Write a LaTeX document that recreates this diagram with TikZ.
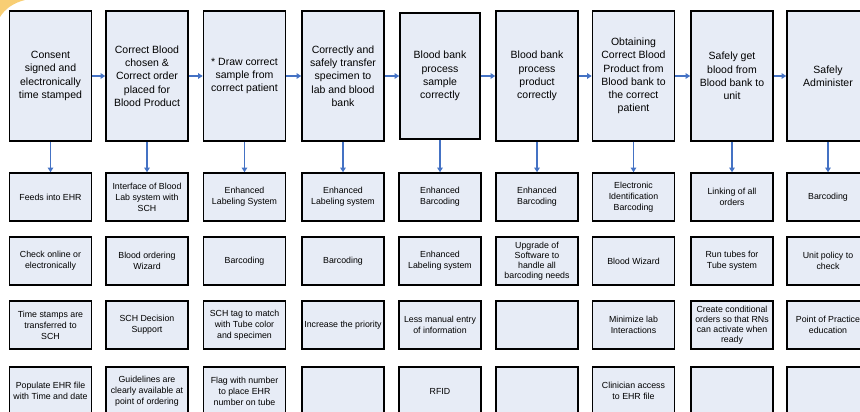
\documentclass[tikz,border=0pt]{standalone}
\usepackage{fontspec}
\setmainfont{Liberation Sans}
\usetikzlibrary{arrows.meta}
\definecolor{boxfill}{RGB}{231,236,246}
\definecolor{arrowblue}{RGB}{68,114,196}
\definecolor{glow}{RGB}{245,190,70}
\begin{document}
\begin{tikzpicture}[x=1pt,y=-1pt,
  topbox/.style={draw=black, line width=1.6pt, fill=boxfill, minimum width=82pt, minimum height=130pt, inner sep=0pt, align=center, font=\fontsize{10.5}{13.3}\selectfont},
  subbox/.style={draw=black, line width=1.6pt, fill=boxfill, minimum width=82pt, minimum height=48pt, inner sep=0pt, align=center, font=\fontsize{8.8}{11}\selectfont},
  tightbox/.style={subbox, font=\fontsize{8.8}{10}\selectfont},
  flow/.style={draw=arrowblue, line width=1.4pt, -{Triangle[width=5.5pt,length=4.5pt]}}]
\useasboundingbox (0,0) rectangle (860,412);
\clip (0,0) rectangle (860,412);
\fill[glow, opacity=0.75] (0,0) -- (25,0) .. controls (13,3) and (5,9) .. (0,17) -- cycle;

% top row: process steps
\node[topbox] (t1) at (50.5,76) {Consent\\signed and\\electronically\\time stamped};
\node[topbox] (t2) at (147,76) {Correct Blood\\chosen \&\\Correct order\\placed for\\Blood Product};
\node[topbox] (t3) at (244.5,76) {* Draw correct\\sample from\\correct patient};
\node[topbox] (t4) at (343,76) {Correctly and\\safely transfer\\specimen to\\lab and blood\\bank};
\node[topbox, minimum width=80pt, minimum height=126pt] (t5) at (440,76) {Blood bank\\process\\sample\\correctly};
\node[topbox] (t6) at (537,76) {Blood bank\\process\\product\\correctly};
\node[topbox] (t7) at (633.5,76) {Obtaining\\Correct Blood\\Product from\\Blood bank to\\the correct\\patient};
\node[topbox] (t8) at (732,76) {Safely get\\blood from\\Blood bank to\\unit};
\node[topbox] (t9) at (828,76) {Safely\\Administer};

% row 2
\node[subbox] (a1) at (50.5,197) {Feeds into EHR};
\node[subbox] (a2) at (147,197) {Interface of Blood\\Lab system with\\SCH};
\node[subbox] (a3) at (244.5,197) {Enhanced\\Labeling System};
\node[subbox] (a4) at (343,197) {Enhanced\\Labeling system};
\node[subbox] (a5) at (440,197) {Enhanced\\Barcoding};
\node[subbox] (a6) at (537,197) {Enhanced\\Barcoding};
\node[subbox] (a7) at (633.5,197) {Electronic\\Identification\\Barcoding};
\node[subbox] (a8) at (732,197) {Linking of all\\orders};
\node[subbox] (a9) at (828,197) {Barcoding};

% row 3
\node[subbox] (b1) at (50.5,261) {Check online or\\electronically};
\node[subbox] (b2) at (147,261) {Blood ordering\\Wizard};
\node[subbox] (b3) at (244.5,261) {Barcoding};
\node[subbox] (b4) at (343,261) {Barcoding};
\node[subbox] (b5) at (440,261) {Enhanced\\Labeling system};
\node[tightbox] (b6) at (537,261) {Upgrade of\\Software to\\handle all\\barcoding needs};
\node[subbox] (b7) at (633.5,261) {Blood Wizard};
\node[subbox] (b8) at (732,261) {Run tubes for\\Tube system};
\node[subbox] (b9) at (828,261) {Unit policy to\\check};

% row 4
\node[subbox] (c1) at (50.5,325) {Time stamps are\\transferred to\\SCH};
\node[subbox] (c2) at (147,325) {SCH Decision\\Support};
\node[subbox] (c3) at (244.5,325) {SCH tag to match\\with Tube color\\and specimen};
\node[subbox] (c4) at (343,325) {Increase the priority};
\node[subbox] (c5) at (440,325) {Less manual entry\\of information};
\node[subbox] (c6) at (537,325) {};
\node[subbox] (c7) at (633.5,325) {Minimize lab\\Interactions};
\node[tightbox] (c8) at (732,325) {Create conditional\\orders so that RNs\\can activate when\\ready};
\node[subbox] (c9) at (828,325) {Point of Practice\\education};

% row 5
\node[subbox] (d1) at (50.5,391) {Populate EHR file\\with Time and date};
\node[subbox] (d2) at (147,391) {Guidelines are\\clearly available at\\point of ordering};
\node[subbox] (d3) at (244.5,391) {Flag with number\\to place EHR\\number on tube};
\node[subbox] (d4) at (343,391) {};
\node[subbox] (d5) at (440,391) {RFID};
\node[subbox] (d6) at (537,391) {};
\node[subbox] (d7) at (633.5,391) {Clinician access\\to EHR file};
\node[subbox] (d8) at (732,391) {};
\node[subbox] (d9) at (828,391) {};

% connectors
\foreach \i [evaluate=\i as \j using int(\i+1)] in {1,...,8}
  \draw[flow] (t\i.east) -- (t\j.west);
\foreach \i in {1,...,9}
  \draw[flow] (t\i.south) -- (a\i.north);
\end{tikzpicture}
\end{document}
